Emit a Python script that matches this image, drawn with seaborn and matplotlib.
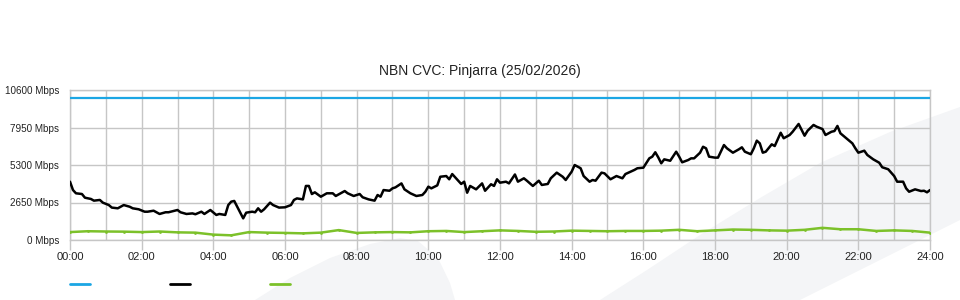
import matplotlib
matplotlib.use("Agg")
import numpy as np
import pandas as pd
import seaborn as sns
import matplotlib.pyplot as plt
from matplotlib.patches import Polygon
from matplotlib.lines import Line2D

# ---------------- data ----------------
title = "NBN CVC: Pinjarra (25/02/2026)"
y_ticks = [0, 2650, 5300, 7950, 10600]
y_tick_labels = ["0 Mbps", "2650 Mbps", "5300 Mbps", "7950 Mbps", "10600 Mbps"]
x_tick_hours = [0, 2, 4, 6, 8, 10, 12, 14, 16, 18, 20, 22, 24]
x_tick_labels = ["00:00", "02:00", "04:00", "06:00", "08:00", "10:00", "12:00",
                 "14:00", "16:00", "18:00", "20:00", "22:00", "24:00"]

capacity_min = [0, 1440]
capacity_mbps = [10000, 10000]

black_min = [0, 5, 10, 20, 25, 35, 40, 50, 55, 65, 70, 80, 90, 100, 105, 115,
             125, 130, 140, 150, 160, 165, 180, 185, 195, 205, 210, 220, 225, 235,
             245, 250, 260, 265, 270, 275, 290, 295, 305, 310, 315, 320, 325, 335,
             340, 350, 360, 370, 375, 380, 390, 395, 400, 405, 410, 420, 430, 440,
             445, 460, 465, 475, 485, 490, 500, 510, 515, 520, 525, 535, 540, 545,
             555, 560, 570, 580, 590, 595, 600, 605, 615, 620, 630, 635, 640, 650,
             655, 660, 665, 670, 680, 690, 695, 705, 710, 715, 720, 730, 735, 745,
             750, 760, 765, 775, 785, 790, 800, 805, 815, 825, 830, 840, 845, 855,
             860, 870, 875, 880, 890, 895, 905, 915, 925, 930, 945, 950, 960, 970,
             975, 980, 985, 990, 995, 1005, 1015, 1020, 1025, 1035, 1040, 1045, 1055,
             1060, 1065, 1070, 1080, 1085, 1095, 1100, 1110, 1120, 1125, 1130, 1140,
             1145, 1150, 1155, 1160, 1165, 1175, 1180, 1190, 1195, 1205, 1210, 1220,
             1230, 1235, 1245, 1250, 1260, 1265, 1275, 1280, 1285, 1290, 1300, 1310,
             1315, 1320, 1330, 1335, 1345, 1355, 1360, 1370, 1380, 1385, 1395, 1400,
             1405, 1415, 1425, 1430, 1435, 1440]
black_mbps = [4120, 3530, 3300, 3250, 2990, 2900, 2780, 2830, 2640, 2470, 2290, 2240,
              2470, 2350, 2240, 2170, 2000, 2000, 2070, 1840, 1960, 1960, 2120, 1960,
              1840, 1880, 1820, 2000, 1840, 2120, 1770, 1840, 1770, 2470, 2710, 2760,
              1530, 1930, 2000, 1960, 2240, 2000, 2170, 2640, 2470, 2290, 2310, 2470,
              2830, 2940, 2870, 3820, 3820, 3250, 3370, 3060, 3300, 3300, 3110, 3460,
              3300, 3110, 3250, 3020, 2870, 2780, 3180, 3060, 3530, 3480, 3650, 3720,
              4000, 3580, 3300, 3110, 3180, 3410, 3770, 3650, 3860, 4470, 4520, 4290,
              4660, 4190, 3960, 4120, 3340, 3820, 3580, 4000, 3480, 3940, 3820, 4290,
              4050, 4120, 4000, 4630, 4120, 4360, 4190, 3820, 4190, 3890, 3960, 4360,
              4760, 4470, 4240, 4830, 5300, 5070, 4520, 4120, 4240, 4190, 4760, 4710,
              4290, 4520, 4360, 4660, 4950, 5070, 5110, 5770, 5890, 6200, 5840, 5420,
              5700, 5600, 6240, 5890, 5490, 5650, 5770, 5770, 6170, 6590, 6480, 5890,
              5820, 5820, 6710, 6480, 6170, 6410, 6550, 6240, 6060, 6480, 7020, 6830,
              6170, 6240, 6760, 6640, 7580, 7190, 7420, 7650, 8200, 7370, 7720, 8130,
              8010, 7840, 7420, 7650, 7700, 8060, 7540, 7190, 6830, 6480, 6170, 6310,
              6010, 5700, 5460, 5140, 5000, 4520, 4120, 4120, 3650, 3410, 3580, 3460,
              3480, 3370, 3530]

green_min = [0, 30, 60, 90, 120, 150, 180, 210, 240, 270, 300, 330, 360, 390, 420,
             450, 480, 510, 540, 570, 600, 630, 660, 690, 720, 750, 780, 810, 840,
             870, 900, 930, 960, 990, 1020, 1050, 1080, 1110, 1140, 1170, 1200, 1230,
             1260, 1290, 1320, 1350, 1380, 1410, 1440]
green_mbps = [560, 620, 600, 590, 560, 600, 540, 520, 380, 330, 560, 520, 500, 470,
              520, 700, 500, 540, 560, 540, 620, 640, 560, 620, 680, 640, 580, 600,
              660, 640, 620, 640, 640, 660, 720, 620, 680, 740, 720, 680, 660, 720,
              860, 760, 760, 640, 680, 640, 520]

# ---------------- style ----------------
BLUE = "#1ba6e4"
BLACK = "#000000"
GREEN = "#7cc12a"
GRID = "#c6c6c6"
TEXT = "#222222"
BGSHAPE = "#f4f5f7"

sns.set_theme(style="white")
plt.rcParams["font.family"] = ["Liberation Sans", "DejaVu Sans"]

W, H = 960, 300
fig = plt.figure(figsize=(W / 100, H / 100), dpi=100)
fig.patch.set_facecolor("white")


def fig_pts(pts):
    return [(x / W, 1 - y / H) for x, y in pts]


# decorative background shapes (behind the chart)
band = [(600, 300), (647, 270), (700, 235), (760, 198), (820, 163), (890, 132),
        (960, 107), (960, 220), (800, 300)]
dome = [(255, 300), (290, 278), (330, 258), (370, 244), (400, 238), (418, 241),
        (438, 258), (450, 283), (455, 300)]
for shape in (band, dome):
    fig.patches.append(Polygon(fig_pts(shape), closed=True, transform=fig.transFigure,
                               facecolor=BGSHAPE, edgecolor="none", zorder=-5))

ax = fig.add_axes([70 / W, 60 / H, 860 / W, 150 / H])
ax.set_facecolor("none")
ax.set_zorder(1)

df_cap = pd.DataFrame({"hour": np.array(capacity_min) / 60, "mbps": capacity_mbps})
df_black = pd.DataFrame({"hour": np.array(black_min) / 60, "mbps": black_mbps})
df_green = pd.DataFrame({"hour": np.array(green_min) / 60, "mbps": green_mbps})

sns.lineplot(data=df_cap, x="hour", y="mbps", ax=ax, color=BLUE, lw=1.6, zorder=4)
sns.lineplot(data=df_green, x="hour", y="mbps", ax=ax, color=GREEN, lw=1.8,
             marker="o", markersize=2, markeredgewidth=0, zorder=4)
sns.lineplot(data=df_black, x="hour", y="mbps", ax=ax, color=BLACK, lw=1.8, zorder=5)

ax.set_xlim(0, 24)
ax.set_ylim(0, 10600)
ax.set_xticks(x_tick_hours)
ax.set_xticklabels(x_tick_labels)
ax.set_xticks(range(0, 25), minor=True)
ax.set_yticks(y_ticks)
ax.set_yticklabels(y_tick_labels)
ax.set_xlabel("")
ax.set_ylabel("")

ax.grid(True, which="both", color=GRID, lw=1.0)
ax.set_axisbelow(True)
for s in ax.spines.values():
    s.set_color(GRID)
    s.set_linewidth(1.0)

ax.tick_params(axis="x", which="major", length=7, width=1.0, color=GRID, pad=1.5,
               labelsize=8, labelcolor=TEXT, bottom=True)
ax.tick_params(axis="x", which="minor", length=0)
ax.tick_params(axis="y", which="both", length=0, pad=8, labelsize=7.1, labelcolor=TEXT)

fig.text(0.5, 1 - 71 / H, title, ha="center", va="center", fontsize=10, color=TEXT)

handles = [Line2D([], [], color=c, lw=2) for c in (BLUE, BLACK, GREEN)]
fig.legend(handles=handles, labels=["", "", ""], loc="center left",
           bbox_to_anchor=(70 / W, 1 - 285 / H), ncol=3, frameon=False,
           fontsize=8, handlelength=1.8, handletextpad=0.8, columnspacing=6.4,
           borderpad=0, borderaxespad=0)

fig.savefig("out.png", dpi=100, facecolor="white")
